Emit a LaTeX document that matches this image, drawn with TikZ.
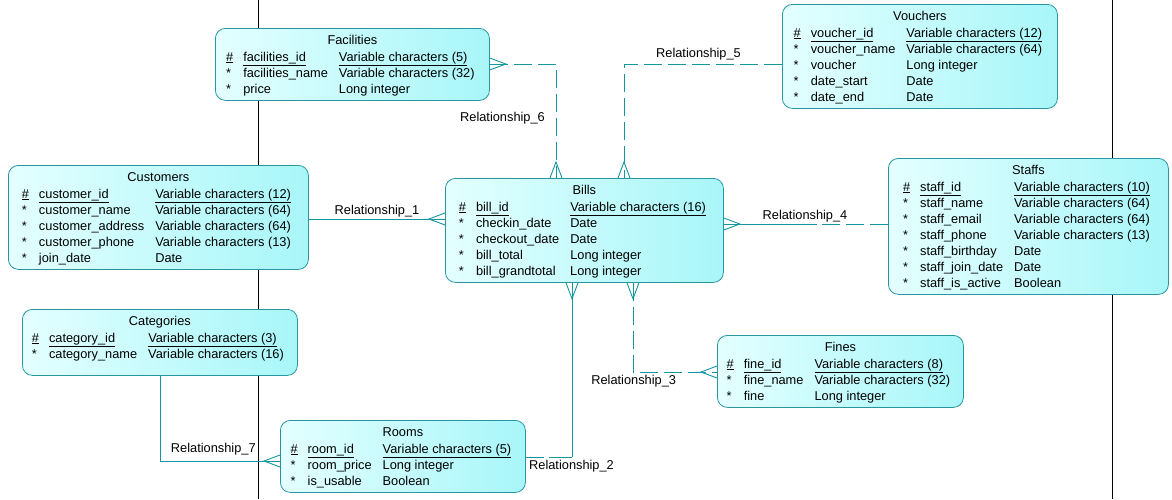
\documentclass[tikz,border=0pt]{standalone}
\usepackage{fontspec}
\setmainfont{Liberation Sans}
\usetikzlibrary{calc}

\definecolor{entline}{RGB}{40,150,160}
\definecolor{entleft}{RGB}{228,255,255}
\definecolor{entright}{RGB}{168,246,249}
\definecolor{relline}{RGB}{20,150,160}

\tikzset{
  entbox/.style={draw=entline, line width=0.8pt, rounded corners=10pt,
    left color=entleft, right color=entright, inner sep=0pt},
  enttitle/.style={anchor=base, inner sep=0pt},
  entrows/.style={anchor=base, inner sep=0pt},
  rel/.style={draw=relline, line width=0.9pt},
  optrel/.style={rel, dash pattern=on 18pt off 6pt},
  rellabel/.style={anchor=base, inner sep=0pt},
  pageline/.style={draw=black, line width=0.8pt}
}

% rows of an entity
\newcommand{\pkey}[2]{\underline{\#} & \underline{#1} & \underline{#2}\\}
\newcommand{\attr}[2]{* & #1 & #2\\}
% entity box: name, x, y, width, height, title, rows
\newcommand{\mkentity}[7]{%
  \node[entbox, anchor=north west, minimum width=#4pt, minimum height=#5pt] (#1) at (#2,#3) {};
  \node[enttitle] (#1-title) at ($(#1.north)+(0,16.5)$) {#6};
  \node[entrows] (#1-rows) at ($(#1.north)+(-2,33)$)
    {\begin{tabular}[t]{@{}l@{\hspace{10pt}}l@{\hspace{11pt}}l@{}}#7\end{tabular}};}
% crow's foot: point on the edge, outward direction dx, dy
\newcommand{\crowfoot}[3]{%
  \draw[rel] ($(#1)+(6*#3,6*#2)$) -- ($(#1)+(16*#2,16*#3)$) -- ($(#1)-(6*#3,6*#2)$);}

\begin{document}
\begin{tikzpicture}[x=1pt, y=-1pt, every node/.style={font=\fontsize{12.8pt}{16pt}\selectfont}]
  \fill[white] (0,0) rectangle (1172,499);
  \path[use as bounding box] (0,0) rectangle (1172,499);

  % page limits
  \draw[pageline] (258,0) -- (258,499);
  \draw[pageline] (1112,0) -- (1112,499);

  % entities
  \mkentity{fac}{215}{28}{274}{72}{Facilities}{%
    \pkey{facilities\_id}{Variable characters (5)}
    \attr{facilities\_name}{Variable characters (32)}
    \attr{price}{Long integer}}
  \mkentity{vou}{782}{4}{275}{104}{Vouchers}{%
    \pkey{voucher\_id}{Variable characters (12)}
    \attr{voucher\_name}{Variable characters (64)}
    \attr{voucher}{Long integer}
    \attr{date\_start}{Date}
    \attr{date\_end}{Date}}
  \mkentity{cust}{8}{165}{300}{104}{Customers}{%
    \pkey{customer\_id}{Variable characters (12)}
    \attr{customer\_name}{Variable characters (64)}
    \attr{customer\_address}{Variable characters (64)}
    \attr{customer\_phone}{Variable characters (13)}
    \attr{join\_date}{Date}}
  \mkentity{bills}{445}{178}{278}{104}{Bills}{%
    \pkey{bill\_id}{Variable characters (16)}
    \attr{checkin\_date}{Date}
    \attr{checkout\_date}{Date}
    \attr{bill\_total}{Long integer}
    \attr{bill\_grandtotal}{Long integer}}
  \mkentity{staffs}{888}{158}{280}{136}{Staffs}{%
    \pkey{staff\_id}{Variable characters (10)}
    \attr{staff\_name}{Variable characters (64)}
    \attr{staff\_email}{Variable characters (64)}
    \attr{staff\_phone}{Variable characters (13)}
    \attr{staff\_birthday}{Date}
    \attr{staff\_join\_date}{Date}
    \attr{staff\_is\_active}{Boolean}}
  \mkentity{cat}{22}{309}{275}{66}{Categories}{%
    \pkey{category\_id}{Variable characters (3)}
    \attr{category\_name}{Variable characters (16)}}
  \mkentity{fines}{717}{335}{246}{72}{Fines}{%
    \pkey{fine\_id}{Variable characters (8)}
    \attr{fine\_name}{Variable characters (32)}
    \attr{fine}{Long integer}}
  \mkentity{rooms}{280}{420}{245}{72}{Rooms}{%
    \pkey{room\_id}{Variable characters (5)}
    \attr{room\_price}{Long integer}
    \attr{is\_usable}{Boolean}}

  % end points and corners of the relationships
  \coordinate (r1a) at (cust.east |- 0,219);
  \coordinate (r1b) at (bills.west |- 0,219);
  \coordinate (r2a) at (bills.south -| 572,0);
  \coordinate (r2k) at (572,457);
  \coordinate (r2b) at (rooms.east |- 0,457);
  \coordinate (r3a) at (bills.south -| 633,0);
  \coordinate (r3k) at (633,372);
  \coordinate (r3b) at (fines.west |- 0,372);
  \coordinate (r4a) at (bills.east |- 0,224);
  \coordinate (r4k) at (817,224);
  \coordinate (r4b) at (staffs.west |- 0,224);
  \coordinate (r5a) at (vou.west |- 0,64);
  \coordinate (r5k) at (624,64);
  \coordinate (r5b) at (bills.north -| 624,0);
  \coordinate (r6a) at (fac.east |- 0,64);
  \coordinate (r6k) at (556,64);
  \coordinate (r6b) at (bills.north -| 556,0);
  \coordinate (r7a) at (cat.south -| 160,0);
  \coordinate (r7k) at (160,461);
  \coordinate (r7b) at (rooms.west |- 0,461);

  % relationships
  \draw[rel] (r1a) -- (r1b);
  \draw[rel] (r2a) -- (r2k);
  \draw[rel, dash pattern=on 23pt off 5pt] (r2k) -- (r2b);
  \draw[optrel] (r3a) -- (r3k) -- (r3b);
  \draw[rel] (r4a) -- (r4k);
  \draw[optrel] (r4b) -- (r4k);
  \draw[optrel] (r5a) -- (r5k) -- (r5b);
  \draw[optrel] (r6a) -- (r6k) -- (r6b);
  \draw[rel] (r7a) -- (r7k) -- (r7b);

  \crowfoot{r1b}{-1}{0}
  \crowfoot{r2a}{0}{1}
  \crowfoot{r3a}{0}{1}
  \crowfoot{r3b}{-1}{0}
  \crowfoot{r4a}{1}{0}
  \crowfoot{r5b}{0}{-1}
  \crowfoot{r6a}{1}{0}
  \crowfoot{r6b}{0}{-1}
  \crowfoot{r7b}{-1}{0}

  \node[rellabel] (r1-lbl) at (377,214) {Relationship\_1};
  \node[rellabel] (r2-lbl) at (571.5,469.3) {Relationship\_2};
  \node[rellabel] (r3-lbl) at (633.7,384.3) {Relationship\_3};
  \node[rellabel] (r4-lbl) at (805,219.5) {Relationship\_4};
  \node[rellabel] (r5-lbl) at (698.5,57.5) {Relationship\_5};
  \node[rellabel] (r6-lbl) at (502.5,121) {Relationship\_6};
  \node[rellabel] (r7-lbl) at (213.3,452) {Relationship\_7};
\end{tikzpicture}
\end{document}
